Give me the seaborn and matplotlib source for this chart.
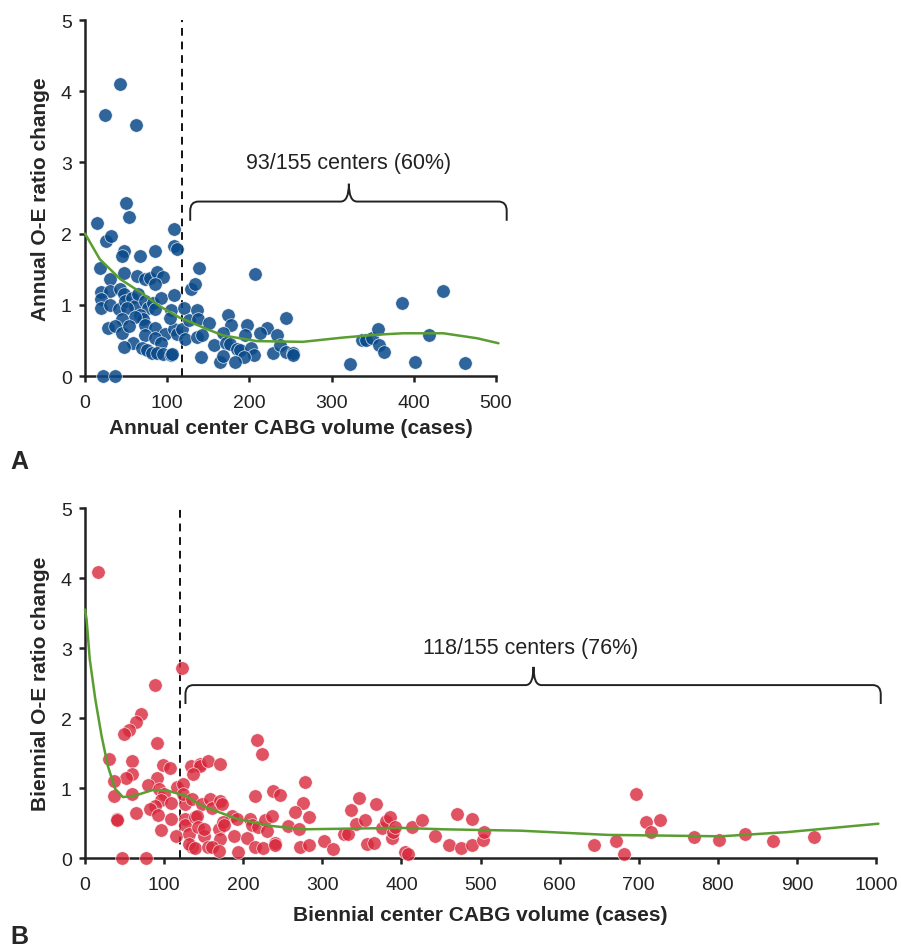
import matplotlib
matplotlib.use("Agg")
import matplotlib.pyplot as plt
from matplotlib.path import Path
from matplotlib.patches import PathPatch
import seaborn as sns

# --- Panel A: annual volume vs annual O-E ratio change ---
annual_volume = [43, 24, 62, 50, 53, 26,
                 15, 32, 48, 45, 67, 85, 108, 108, 112,
                 18, 30, 47, 63, 73, 79, 87, 95, 85, 129,
                 134, 19, 30, 43, 19, 20, 30, 41, 47, 49,
                 57, 61, 51, 65, 73, 77, 83, 93, 108, 85,
                 105, 120, 67, 71, 61, 45, 28, 36, 45, 53,
                 73, 85, 97, 108, 112, 118, 122, 126, 73, 85,
                 93, 59, 48, 69, 75, 81, 87, 95, 105, 106,
                 22, 37, 103,
                 139, 136, 138, 136, 142, 141,
                 207, 151, 174, 178, 197, 195, 221, 213, 234, 245,
                 168, 157, 172, 176, 185, 189, 202, 205, 193, 164,
                 168, 182, 229, 237, 245, 253, 253, 322, 337, 342,
                 349, 356, 358, 364, 386, 401, 418, 436, 462]
annual_change = [4.10, 3.67, 3.53, 2.43, 2.24, 1.89,
                 2.15, 1.97, 1.76, 1.68, 1.69, 1.75, 2.06, 1.82, 1.78,
                 1.51, 1.36, 1.45, 1.41, 1.36, 1.37, 1.46, 1.39, 1.29, 1.22,
                 1.29, 1.18, 1.20, 1.22, 1.08, 0.95, 1.00, 0.94, 1.15, 1.06,
                 1.10, 0.99, 0.96, 1.15, 1.06, 0.96, 1.03, 1.10, 1.14, 0.94,
                 0.92, 0.95, 0.85, 0.80, 0.83, 0.80, 0.67, 0.70, 0.61, 0.70,
                 0.72, 0.68, 0.59, 0.66, 0.59, 0.66, 0.52, 0.78, 0.57, 0.54,
                 0.47, 0.46, 0.41, 0.40, 0.37, 0.33, 0.33, 0.31, 0.29, 0.31,
                 0.0, 0.0, 0.82,
                 1.52, 0.93, 0.80, 0.55, 0.57, 0.27,
                 1.43, 0.74, 0.85, 0.72, 0.72, 0.58, 0.67, 0.60, 0.57, 0.81,
                 0.61, 0.43, 0.47, 0.45, 0.38, 0.36, 0.40, 0.29, 0.26, 0.20,
                 0.28, 0.20, 0.33, 0.43, 0.34, 0.33, 0.29, 0.17, 0.51, 0.51,
                 0.53, 0.66, 0.44, 0.34, 1.03, 0.20, 0.58, 1.19, 0.18]
# fitted trend
annual_fit_x = [0, 18, 43, 67, 91, 115, 128, 148, 168, 209, 265, 314, 355, 387, 436, 477, 503]
annual_fit_y = [2.00, 1.64, 1.36, 1.18, 0.98, 0.82, 0.76, 0.66, 0.57, 0.49, 0.48, 0.54, 0.58, 0.60, 0.60, 0.53, 0.46]

# --- Panel B: biennial volume vs biennial O-E ratio change ---
biennial_volume = [16, 122, 89, 71, 64, 55, 49, 91, 30, 59,
                   99, 108, 60, 52, 91, 37, 80, 94, 116, 124,
                   37, 60, 100, 96, 109, 89, 82, 92, 65, 127,
                   109, 126, 40, 41, 96, 126, 115, 131, 47, 77, 135,
                   217, 224, 134, 145, 146, 156, 171, 136, 238, 247,
                   278, 276, 215, 124, 135, 148, 158, 160, 171, 173,
                   186, 192, 209, 211, 219, 228, 236, 230, 257, 270,
                   266, 283, 139, 142, 143, 150, 151, 169, 175, 176,
                   188, 171, 131, 139, 156, 161, 169, 193, 205, 215,
                   225, 240, 240, 272,
                   283, 302, 314, 327, 333, 336, 343, 347, 354, 357,
                   365, 368, 376, 380, 385, 388, 390, 392, 404, 408,
                   414, 426, 443, 460, 470, 475, 489, 489, 503, 505,
                   643, 671, 681, 696, 709, 716, 727, 770, 801, 835, 870, 922]
biennial_change = [4.08, 2.71, 2.47, 2.06, 1.95, 1.83, 1.77, 1.65, 1.41, 1.38,
                   1.33, 1.28, 1.20, 1.15, 1.15, 1.10, 1.04, 0.99, 1.01, 1.06,
                   0.88, 0.92, 0.91, 0.83, 0.79, 0.75, 0.70, 0.61, 0.64, 0.77,
                   0.56, 0.56, 0.56, 0.54, 0.40, 0.47, 0.32, 0.34, 0.0, 0.0, 0.16,
                   1.69, 1.49, 1.32, 1.34, 1.31, 1.39, 1.35, 1.20, 0.96, 0.90,
                   1.09, 0.79, 0.88, 0.91, 0.85, 0.77, 0.84, 0.72, 0.82, 0.77,
                   0.60, 0.56, 0.56, 0.47, 0.44, 0.54, 0.60, 0.39, 0.46, 0.41,
                   0.66, 0.58, 0.58, 0.60, 0.44, 0.32, 0.41, 0.41, 0.51, 0.47,
                   0.32, 0.27, 0.20, 0.15, 0.16, 0.16, 0.10, 0.08, 0.28, 0.16,
                   0.14, 0.22, 0.19, 0.16,
                   0.19, 0.25, 0.13, 0.34, 0.35, 0.69, 0.49, 0.86, 0.54, 0.20,
                   0.21, 0.77, 0.43, 0.53, 0.58, 0.28, 0.37, 0.45, 0.08, 0.06,
                   0.44, 0.54, 0.31, 0.19, 0.63, 0.14, 0.56, 0.19, 0.26, 0.37,
                   0.19, 0.24, 0.06, 0.91, 0.51, 0.37, 0.55, 0.30, 0.26, 0.34, 0.25, 0.30]
biennial_fit_x = [0, 2, 6, 13, 21, 29, 38, 48, 63, 85, 105, 127, 149, 192, 234, 276, 399, 453, 551, 661, 804, 888, 1003]
biennial_fit_y = [3.55, 3.41, 2.84, 2.27, 1.74, 1.31, 0.99, 0.87, 0.89, 0.97, 0.96, 0.89, 0.74, 0.56, 0.46, 0.41, 0.43, 0.41, 0.39, 0.33, 0.31, 0.37, 0.49]

annual_cut = 118
biennial_cut = 120
annual_note = "93/155 centers (60%)"
biennial_note = "118/155 centers (76%)"

BLUE = "#0a4a8a"
RED = "#d8283c"
GREEN = "#5a9e32"

sns.set_style("ticks")
plt.rcParams["font.family"] = ["Liberation Sans", "DejaVu Sans"]


def draw_bracket(ax, x0, x1, xm, y_end, y_mid, y_tip, rx, ry):
    verts = [(x0, y_end), (x0, y_mid - ry), (x0, y_mid), (x0 + rx, y_mid),
             (xm - rx, y_mid), (xm, y_mid), (xm, y_tip),
             (xm, y_mid), (xm + rx, y_mid), (x1 - rx, y_mid),
             (x1, y_mid), (x1, y_mid - ry), (x1, y_end)]
    codes = [Path.MOVETO, Path.LINETO, Path.CURVE3, Path.CURVE3,
             Path.LINETO, Path.CURVE3, Path.CURVE3,
             Path.CURVE3, Path.CURVE3, Path.LINETO,
             Path.CURVE3, Path.CURVE3, Path.LINETO]
    patch = PathPatch(Path(verts, codes), fill=False, lw=1.4, ec="#222222", clip_on=False)
    ax.add_patch(patch)


def style_axis(ax, xmax, xstep):
    ax.set_xlim(0, xmax)
    ax.set_ylim(0, 5)
    ax.set_xticks(range(0, xmax + 1, xstep))
    ax.set_yticks(range(0, 6))
    sns.despine(ax=ax)
    for s in ["left", "bottom"]:
        ax.spines[s].set_linewidth(1.8)
        ax.spines[s].set_color("#222222")
    ax.tick_params(direction="out", length=4.5, width=1.8, color="#222222",
                   labelsize=14, labelcolor="#222222")
    ax.tick_params(axis="x", pad=8.5)
    ax.tick_params(axis="y", pad=5)


fig = plt.figure(figsize=(9.01, 9.53), dpi=100)
ax_a = fig.add_axes([85 / 901, 1 - 377 / 953, 411 / 901, 356 / 953])
ax_b = fig.add_axes([85 / 901, 1 - 859 / 953, 791 / 901, 350 / 953])

# Panel A
sns.scatterplot(x=annual_volume, y=annual_change, ax=ax_a, color=BLUE, s=95,
                alpha=0.85, edgecolor="white", linewidth=0.5, zorder=3)
sns.lineplot(x=annual_fit_x, y=annual_fit_y, ax=ax_a, color=GREEN, lw=1.8,
             estimator=None, sort=False, zorder=4)
ax_a.axvline(annual_cut, color="#111111", lw=1.4, ls=(0, (4, 3)), zorder=2)
style_axis(ax_a, 500, 100)
draw_bracket(ax_a, 128, 513, 321, 2.18, 2.45, 2.70, 10, 0.13)
ax_a.text(321, 3.0, annual_note, ha="center", va="center", fontsize=15.5, color="#222222")
ax_a.set_xlabel("Annual center CABG volume (cases)", fontsize=15, fontweight="bold")
ax_a.set_ylabel("Annual O-E ratio change", fontsize=15, fontweight="bold")
ax_a.xaxis.set_label_coords(0.5, -0.118)
ax_a.yaxis.set_label_coords(-0.085, 0.5)

# Panel B
sns.scatterplot(x=biennial_volume, y=biennial_change, ax=ax_b, color=RED, s=95,
                alpha=0.8, edgecolor="white", linewidth=0.5, zorder=3)
sns.lineplot(x=biennial_fit_x, y=biennial_fit_y, ax=ax_b, color=GREEN, lw=1.8,
             estimator=None, sort=False, zorder=4)
ax_b.axvline(biennial_cut, color="#111111", lw=1.4, ls=(0, (4, 3)), zorder=2)
style_axis(ax_b, 1000, 100)
draw_bracket(ax_b, 127, 1006, 567, 2.2, 2.47, 2.73, 10, 0.13)
ax_b.text(563, 3.01, biennial_note, ha="center", va="center", fontsize=15.5, color="#222222")
ax_b.set_xlabel("Biennial center CABG volume (cases)", fontsize=15, fontweight="bold")
ax_b.set_ylabel("Biennial O-E ratio change", fontsize=15, fontweight="bold")
ax_b.xaxis.set_label_coords(0.5, -0.135)
ax_b.yaxis.set_label_coords(-0.044, 0.5)

for ax in (ax_a, ax_b):
    for coll in ax.collections:
        coll.set_clip_on(False)
    for line in ax.lines:
        line.set_clip_on(False)

fig.text(10 / 901, 1 - 462 / 953, "A", fontsize=18, fontweight="bold", va="center")
fig.text(10 / 901, 1 - 937 / 953, "B", fontsize=18, fontweight="bold", va="center")

fig.savefig("out.png", dpi=100)
